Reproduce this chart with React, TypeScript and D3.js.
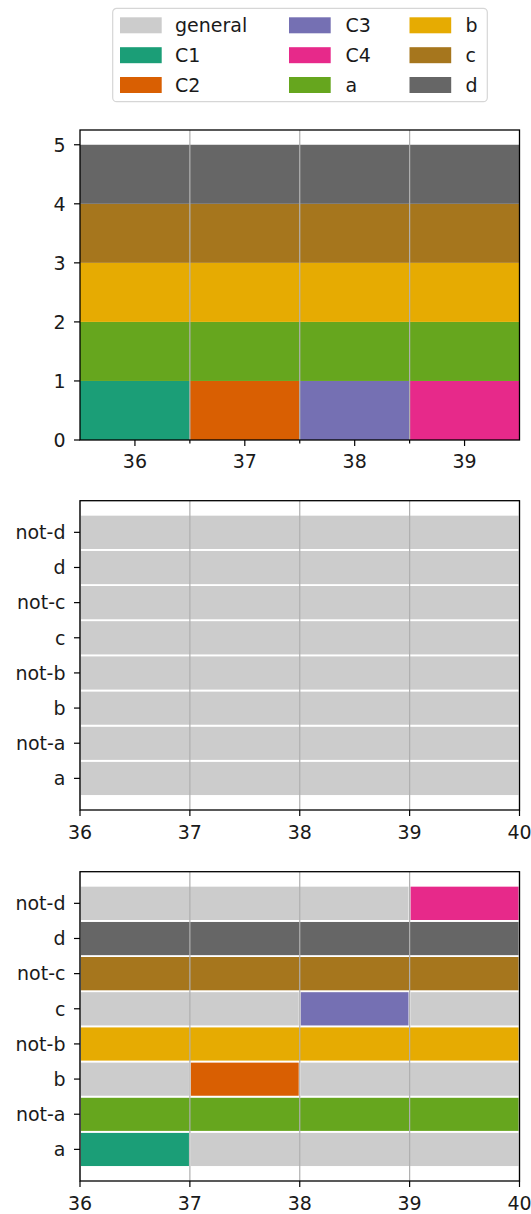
import React from "react";
import * as d3 from "d3";

const W = 531;
const H = 1214;

const legendLabels = ["general", "C1", "C2", "C3", "C4", "a", "b", "c", "d"];
const legendColors = ["#cccccc", "#1b9e77", "#d95f02", "#7570b3", "#e7298a", "#66a61e", "#e6ab02", "#a6761d", "#666666"];

const topX = [36, 37, 38, 39];
const topCluster = ["C1", "C2", "C3", "C4"];
const topStack = ["a", "b", "c", "d"];
const topTicksY = [0, 1, 2, 3, 4, 5];

const categories = ["a", "not-a", "b", "not-b", "c", "not-c", "d", "not-d"];
const xTicks = [36, 37, 38, 39, 40];

const midSegments: [string, number, number, string][] = categories.map((c) => [c, 36, 40, "general"]);

const bottomSegments: [string, number, number, string][] = [
  ["a", 36, 37, "C1"],
  ["a", 37, 40, "general"],
  ["not-a", 36, 40, "a"],
  ["b", 36, 37, "general"],
  ["b", 37, 38, "C2"],
  ["b", 38, 40, "general"],
  ["not-b", 36, 40, "b"],
  ["c", 36, 38, "general"],
  ["c", 38, 39, "C3"],
  ["c", 39, 40, "general"],
  ["not-c", 36, 40, "c"],
  ["d", 36, 40, "d"],
  ["not-d", 36, 39, "general"],
  ["not-d", 39, 40, "C4"],
];

const color = d3.scaleOrdinal<string, string>().domain(legendLabels).range(legendColors);

const FONT = "DejaVu Sans";
const FS = 19;
const TEXT = "#1a1a1a";
const GRID = "#b0b0b0";
const AX_L = 80;
const AX_R = 519.5;
const TICK = 6;
const PAD = 8.5;

function TopPanel() {
  const top = 130, bottom = 440;
  const x = d3.scaleLinear().domain([35.5, 39.5]).range([AX_L, AX_R]);
  const y = d3.scaleLinear().domain([0, 5.25]).range([bottom, top]);
  const minor = [36.5, 37.5, 38.5];
  const rects: JSX.Element[] = [];
  topX.forEach((xv, i) => {
    const layers = [topCluster[i], ...topStack];
    layers.forEach((lab, j) => {
      rects.push(
        <rect key={`${xv}-${lab}`} x={x(xv - 0.5)} y={y(j + 1)} width={x(xv + 0.5) - x(xv - 0.5)} height={y(j) - y(j + 1)} fill={color(lab)} />
      );
    });
  });
  return (
    <g>
      {rects}
      {minor.map((m) => (
        <line key={m} x1={x(m)} x2={x(m)} y1={top} y2={bottom} stroke={GRID} strokeWidth={1.2} />
      ))}
      {minor.map((m) => (
        <line key={"mt" + m} x1={x(m)} x2={x(m)} y1={bottom} y2={bottom + 3.5} stroke="#000" strokeWidth={1.2} />
      ))}
      {topX.map((t) => (
        <g key={t}>
          <line x1={x(t)} x2={x(t)} y1={bottom} y2={bottom + TICK} stroke="#000" strokeWidth={1.2} />
          <text x={x(t)} y={bottom + 27.8} textAnchor="middle" fontFamily={FONT} fontSize={FS} fill={TEXT}>{t}</text>
        </g>
      ))}
      {topTicksY.map((t) => (
        <g key={t}>
          <line x1={AX_L - TICK} x2={AX_L} y1={y(t)} y2={y(t)} stroke="#000" strokeWidth={1.2} />
          <text x={AX_L - TICK - PAD} y={y(t)} dy="0.36em" textAnchor="end" fontFamily={FONT} fontSize={FS} fill={TEXT}>{t}</text>
        </g>
      ))}
      <rect x={AX_L} y={top} width={AX_R - AX_L} height={bottom - top} fill="none" stroke="#000" strokeWidth={1.3} />
    </g>
  );
}

function BarhPanel({ top, segments }: { top: number; segments: [string, number, number, string][] }) {
  const bottom = top + 309.3;
  const x = d3.scaleLinear().domain([36, 40]).range([AX_L, AX_R]);
  const y = d3.scaleLinear().domain([-0.9, 7.9]).range([bottom, top]);
  const idx = (c: string) => categories.indexOf(c);
  return (
    <g>
      {segments.map(([cat, s, e, lab], i) => (
        <rect key={i} x={x(s)} y={y(idx(cat) + 0.5)} width={x(e) - x(s)} height={y(idx(cat) - 0.5) - y(idx(cat) + 0.5)} fill={color(lab)} stroke="#fff" strokeWidth={1.8} />
      ))}
      {xTicks.map((t) => (
        <line key={"g" + t} x1={x(t)} x2={x(t)} y1={top} y2={bottom} stroke={GRID} strokeWidth={1.2} />
      ))}
      {xTicks.map((t) => (
        <g key={t}>
          <line x1={x(t)} x2={x(t)} y1={bottom} y2={bottom + TICK} stroke="#000" strokeWidth={1.2} />
          <text x={x(t)} y={bottom + 29.3} textAnchor="middle" fontFamily={FONT} fontSize={FS} fill={TEXT}>{t}</text>
        </g>
      ))}
      {categories.map((c, i) => (
        <g key={c}>
          <line x1={AX_L - TICK} x2={AX_L} y1={y(i)} y2={y(i)} stroke="#000" strokeWidth={1.2} />
          <text x={AX_L - TICK - PAD} y={y(i)} dy="0.36em" textAnchor="end" fontFamily={FONT} fontSize={FS} fill={TEXT}>{c}</text>
        </g>
      ))}
      <rect x={AX_L} y={top} width={AX_R - AX_L} height={bottom - top} fill="none" stroke="#000" strokeWidth={1.3} />
    </g>
  );
}

function Legend() {
  const colX = [120, 289, 409.5];
  const textX = [175, 345.5, 465.5];
  const rowY = [25.3, 55.2, 85];
  return (
    <g>
      <rect x={112.7} y={8.3} width={374.6} height={93.4} rx={4} fill="#fff" fillOpacity={0.8} stroke="#d6d6d6" strokeWidth={1.2} />
      {legendLabels.map((lab, i) => {
        const c = Math.floor(i / 3);
        const r = i % 3;
        return (
          <g key={lab}>
            <rect x={colX[c]} y={rowY[r] - 8} width={41.7} height={16} fill={color(lab)} />
            <text x={textX[c]} y={rowY[r]} dy="0.36em" fontFamily={FONT} fontSize={FS} fill={TEXT}>{lab}</text>
          </g>
        );
      })}
    </g>
  );
}

export default function App() {
  return (
    <svg width={W} height={H} style={{ position: "absolute", left: 0, top: 0, background: "#fff" }}>
      <rect x={0} y={0} width={W} height={H} fill="#fff" />
      <Legend />
      <TopPanel />
      <BarhPanel top={500.7} segments={midSegments} />
      <BarhPanel top={871.7} segments={bottomSegments} />
    </svg>
  );
}
